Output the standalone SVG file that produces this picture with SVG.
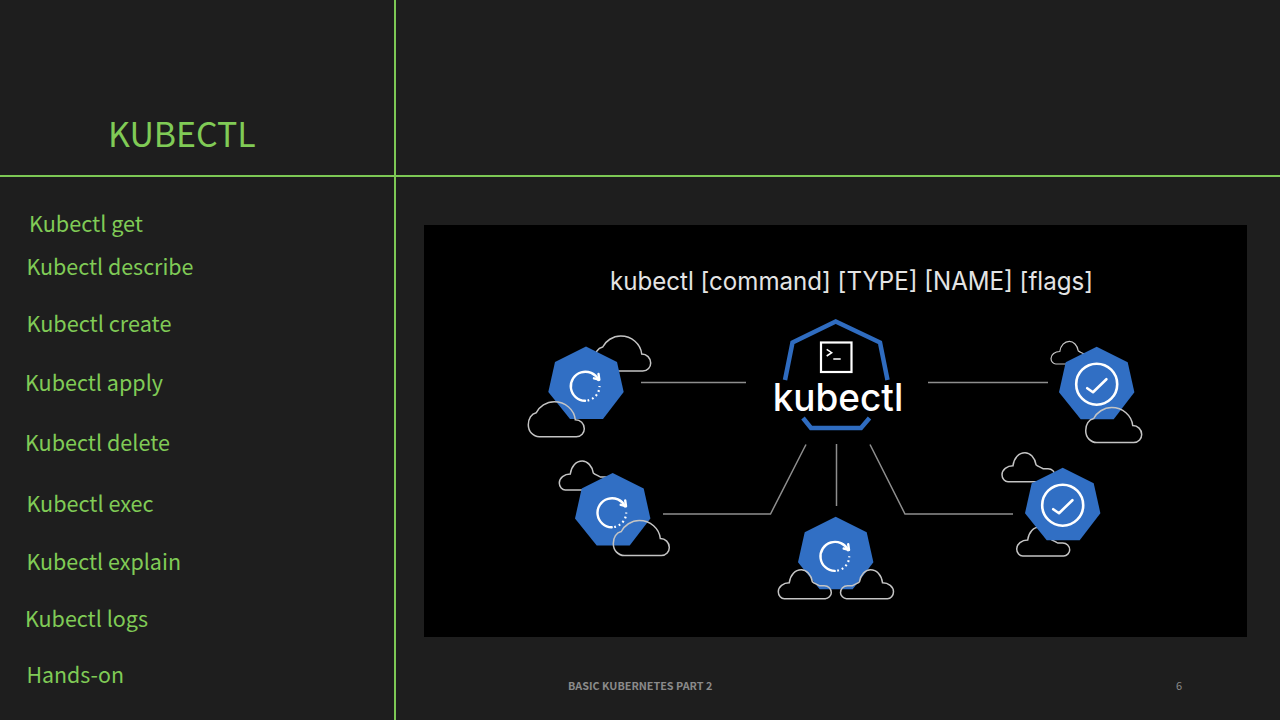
<svg xmlns="http://www.w3.org/2000/svg" width="1280" height="720" viewBox="0 0 1280 720">
<style>
.rule{stroke:#7dc855;stroke-width:2;fill:none}
.item{font-family:"Noto Sans CJK SC","Noto Sans",sans-serif;font-size:21.6px;font-weight:400;fill:#80cb56}
.title{font-family:"Noto Sans CJK SC","Noto Sans",sans-serif;font-size:33.900px;fill:#80cb56}
.foot{font-family:"Noto Sans CJK SC","Noto Sans",sans-serif;fill:#8a8a8a}
.conn{stroke:#8e8e8e;stroke-width:1.5;fill:none}
.cloud{stroke:#c4c4c4;stroke-width:1.5;fill:none}
.hept{fill:#316fc4}
.ic{stroke:#fff;fill:none;stroke-width:2.400;stroke-linecap:round;stroke-linejoin:round}
.dot{stroke:#fff;fill:none;stroke-width:2.200;stroke-dasharray:1.800 3}
.logo{stroke:#2f6cc0;stroke-width:4.500;fill:none;stroke-linejoin:miter}
</style>
<defs>
<polygon id="h" class="hept" points="0,0 31,15.500 37.700,45.500 17,72.500 -16,72.500 -37.700,45.500 -31,15.500"/>
<path id="big" class="cloud" d="M11 0H48C53 0 56 -4 56 -8C56 -13 52 -17 47 -17C46 -27 37 -35 26 -35C18 -35 11 -30 8 -24C3 -23 0 -18 0 -12C0 -5 5 0 11 0Z"/>
<path id="small" class="cloud" d="M6 0H47C50 0 53 -3 53 -6C53 -10 50 -13 46 -13H41C38 -15 36 -15 34 -17C33 -24 28 -29 23 -29C17 -29 12 -24 11 -16C5 -16 0 -12 0 -7C0 -3 3 0 6 0Z"/>
<g id="refresh">
<path class="ic" d="M12.400 33.500A14.500 14.500 0 1 0 -1 54.200"/>
<path class="ic" d="M8 31.800L13.300 33.200L12.500 27.500"/>
<path class="dot" d="M1.500 54A14.500 14.500 0 0 0 13.500 39.500"/>
</g>
<g id="check">
<circle class="ic" style="stroke-width:2.600" cx="0" cy="37.500" r="20.500"/>
<path class="ic" style="stroke-width:2.600" d="M-9.500 41.500L-3.700 45.500L9.700 32.500"/>
</g>
</defs>
<rect width="1280" height="720" fill="#1e1e1e"/>
<g id="frame">
<line class="rule" x1="395" y1="0" x2="395" y2="720"/>
<line class="rule" x1="0" y1="176" x2="1280" y2="176"/>
</g>
<g id="sidebar">
<text class="title" x="108" y="146.500">KUBECTL</text>
<text class="item" x="29" y="232" textLength="114" lengthAdjust="spacingAndGlyphs">Kubectl get</text>
<text class="item" x="26.500" y="275" textLength="167" lengthAdjust="spacingAndGlyphs">Kubectl describe</text>
<text class="item" x="26.500" y="332" textLength="145" lengthAdjust="spacingAndGlyphs">Kubectl create</text>
<text class="item" x="25" y="391" textLength="138" lengthAdjust="spacingAndGlyphs">Kubectl apply</text>
<text class="item" x="25" y="451" textLength="145" lengthAdjust="spacingAndGlyphs">Kubectl delete</text>
<text class="item" x="26.500" y="512" textLength="127" lengthAdjust="spacingAndGlyphs">Kubectl exec</text>
<text class="item" x="26.500" y="570" textLength="154.500" lengthAdjust="spacingAndGlyphs">Kubectl explain</text>
<text class="item" x="25" y="627" textLength="123" lengthAdjust="spacingAndGlyphs">Kubectl logs</text>
<text class="item" x="26.500" y="683" textLength="97.500" lengthAdjust="spacingAndGlyphs">Hands-on</text>
</g>
<rect id="panel" x="424" y="225" width="823" height="412" fill="#000"/>
<text id="syntax" x="610" y="290" textLength="483" lengthAdjust="spacingAndGlyphs" font-family="Inter,'Open Sans',sans-serif" font-size="25" fill="#e4e4e4">kubectl [command] [TYPE] [NAME] [flags]</text>
<g id="connectors">
<path class="conn" d="M641 382.500H746"/>
<path class="conn" d="M928 382.500H1048"/>
<path class="conn" d="M663 514H770.500L806 444.500"/>
<path class="conn" d="M836.500 444V506"/>
<path class="conn" d="M870 444.500L905 514H1013"/>
</g>
<g id="kubectl-logo">
<path class="logo" d="M785 380L792.500 342.500L835.700 321.500L880 342.500L887.500 380"/>
<path class="logo" d="M803 418L811 428H861L869.500 418"/>
<rect x="821" y="342.500" width="30.500" height="29.500" fill="none" stroke="#fff" stroke-width="2.200"/>
<path d="M826.700 349.300L831.700 352.700L826.700 356M833.300 359H840.700" fill="none" stroke="#fff" stroke-width="1.500"/>
<text x="772.700" y="411" textLength="130.600" lengthAdjust="spacingAndGlyphs" font-family="Inter,'Open Sans',sans-serif" font-size="38" font-weight="500" fill="#fff">kubectl</text>
</g>
<g id="node-1">
<use href="#big" x="594.700" y="371"/>
<use href="#h" x="586" y="346.500"/>
<use href="#refresh" x="586" y="346.500"/>
<use href="#big" x="528.300" y="436.700"/>
</g>
<g id="node-2">
<use href="#small" x="559.300" y="490"/>
<use href="#h" x="612.700" y="473"/>
<use href="#refresh" x="612.700" y="473"/>
<use href="#big" x="613.300" y="555.500"/>
</g>
<g id="node-3">
<use href="#h" x="835.700" y="516.700"/>
<use href="#refresh" x="835.700" y="516.700"/>
<use href="#small" x="778.300" y="598.700"/>
<use href="#small" transform="translate(893.500 598.700) scale(-1 1)"/>
</g>
<g id="node-4">
<use href="#small" transform="translate(1051 364) scale(.8 .78)"/>
<use href="#h" x="1096.700" y="346.700"/>
<use href="#check" x="1096.700" y="346.700"/>
<use href="#big" x="1085.700" y="442.500"/>
</g>
<g id="node-5">
<use href="#small" x="1002" y="481.700"/>
<use href="#small" x="1016.700" y="556"/>
<use href="#h" x="1062.700" y="467.700"/>
<use href="#check" x="1062.700" y="467.700"/>
</g>
<g id="footer">
<text class="foot" x="568" y="690" font-size="10.800" font-weight="700">BASIC KUBERNETES PART 2</text>
<text class="foot" x="1176" y="690" font-size="11">6</text>
</g>
</svg>
